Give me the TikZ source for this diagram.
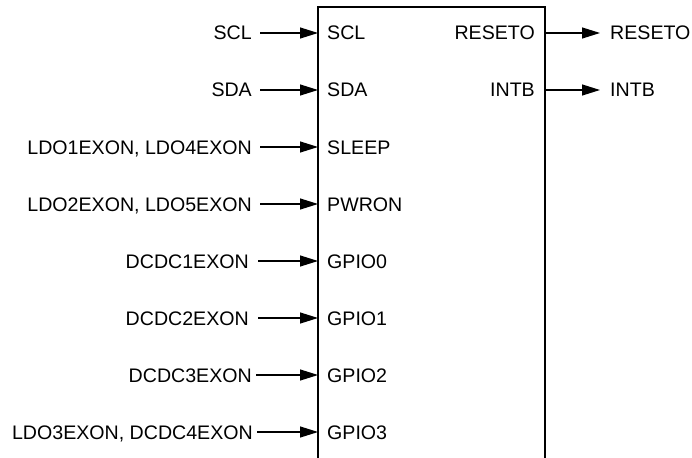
\documentclass[tikz,border=0pt]{standalone}
\usepackage{fontspec}
\setmainfont{Liberation Sans}
\usetikzlibrary{arrows.meta}

\begin{document}
\begin{tikzpicture}[x=1pt,y=-1pt,
  sig/.style={-{Triangle[length=18pt,width=11pt]}, line width=1.2pt}]
\useasboundingbox (0,0) rectangle (692,457);

% block outline (bottom runs off the page)
\coordinate (bl) at (318,470);
\coordinate (tl) at (318,7);
\coordinate (tr) at (545,7);
\coordinate (br) at (545,470);
\draw[line width=1.3pt] (bl) -- (tl) -- (tr) -- (br);

\begin{scope}[every node/.style={font=\fontsize{19.6}{23}\selectfont,
    text height=14pt, text depth=0pt, inner ysep=0pt}]
% inputs
\node[anchor=east, inner xsep=8pt] (scl) at (260,33) {SCL};
\node[anchor=east, inner xsep=8pt] (sda) at (260,90) {SDA};
\node[anchor=east, inner xsep=8pt] (ldo14) at (260,147) {LDO1EXON, LDO4EXON};
\node[anchor=east, inner xsep=8pt] (ldo25) at (260,204) {LDO2EXON, LDO5EXON};
\node[anchor=east, inner xsep=9pt] (dcdc1) at (258,261) {DCDC1EXON};
\node[anchor=east, inner xsep=9pt] (dcdc2) at (258,318) {DCDC2EXON};
\node[anchor=east, inner xsep=4pt] (dcdc3) at (256,375) {DCDC3EXON};
\node[anchor=east, inner xsep=4pt] (ldo3) at (257,432) {LDO3EXON, DCDC4EXON};

% pins on the left side
\node[anchor=west, inner xsep=9pt] (pscl) at (318,33) {SCL};
\node[anchor=west, inner xsep=9pt] (psda) at (318,90) {SDA};
\node[anchor=west, inner xsep=9pt] (psleep) at (318,147) {SLEEP};
\node[anchor=west, inner xsep=9pt] (ppwron) at (318,204) {PWRON};
\node[anchor=west, inner xsep=9pt] (pgpio0) at (318,261) {GPIO0};
\node[anchor=west, inner xsep=9pt] (pgpio1) at (318,318) {GPIO1};
\node[anchor=west, inner xsep=9pt] (pgpio2) at (318,375) {GPIO2};
\node[anchor=west, inner xsep=9pt] (pgpio3) at (318,432) {GPIO3};

% pins on the right side
\node[anchor=east, inner xsep=10pt] (preset) at (545,33) {RESETO};
\node[anchor=east, inner xsep=10pt] (pintb) at (545,90) {INTB};

% outputs
\node[anchor=west, inner xsep=10pt] (reset) at (600,33) {RESETO};
\node[anchor=west, inner xsep=10pt] (intb) at (600,90) {INTB};
\end{scope}

\draw[sig] (scl.east) -- (pscl.west);
\draw[sig] (sda.east) -- (psda.west);
\draw[sig] (ldo14.east) -- (psleep.west);
\draw[sig] (ldo25.east) -- (ppwron.west);
\draw[sig] (dcdc1.east) -- (pgpio0.west);
\draw[sig] (dcdc2.east) -- (pgpio1.west);
\draw[sig] (dcdc3.east) -- (pgpio2.west);
\draw[sig] (ldo3.east) -- (pgpio3.west);

\draw[sig] (preset.east) -- (reset.west);
\draw[sig] (pintb.east) -- (intb.west);

\end{tikzpicture}
\end{document}
